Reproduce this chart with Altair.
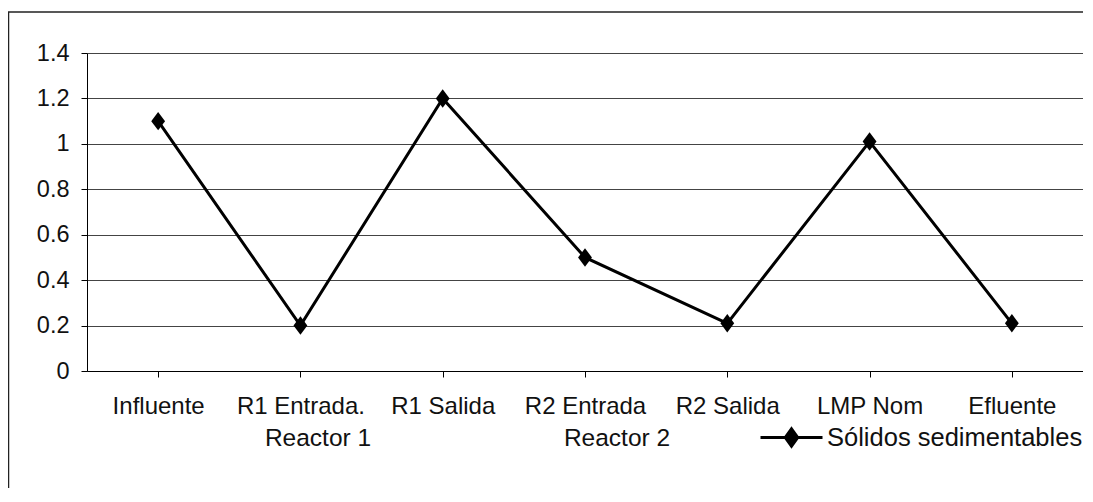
import altair as alt
import pandas as pd

categories = ["Influente", "R1 Entrada.", "R1 Salida", "R2 Entrada", "R2 Salida", "LMP Nom", "Efluente"]
values = [1.1, 0.2, 1.2, 0.5, 0.21, 1.01, 0.21]
series_name = "Sólidos sedimentables"
group_labels = ["Reactor 1", "Reactor 2"]
y_ticks = [0, 0.2, 0.4, 0.6, 0.8, 1.0, 1.2, 1.4]

df = pd.DataFrame({"cat": categories, "val": values, "serie": [series_name] * len(categories)})

FONT = "Liberation Sans"
W, H = 996, 318

x = alt.X("cat:N", sort=categories, title=None,
          scale=alt.Scale(paddingInner=0, paddingOuter=0),
          axis=alt.Axis(labelAngle=0, bandPosition=0, tickSize=6, tickColor="black",
                        domainColor="black", labelFontSize=24, labelFont=FONT,
                        labelColor="#111", labelPadding=17, grid=False, labelBaseline="top",
                        labelLimit=300))
y = alt.Y("val:Q", title=None,
          scale=alt.Scale(domain=[0, 1.4], nice=False),
          axis=alt.Axis(values=y_ticks, format="~g", tickSize=6, tickColor="black",
                        domainColor="black", gridColor="#444", gridWidth=1,
                        labelFontSize=23.5, labelFont=FONT, labelColor="#111",
                        labelPadding=12))

color = alt.Color("serie:N", scale=alt.Scale(range=["black"]), title=None,
                  legend=alt.Legend(orient="none", legendX=672, legendY=352,
                                    symbolType="M-1,0L1,0M0,-0.28L0.2,0L0,0.28L-0.2,0Z",
                                    symbolSize=3844, symbolFillColor="black",
                                    symbolStrokeColor="black", symbolStrokeWidth=3,
                                    labelFontSize=25.5, labelFont=FONT, labelColor="#111",
                                    labelOffset=3, labelLimit=0))

line = alt.Chart(df).mark_line(strokeWidth=3).encode(x=x, y=y, color=color)
points = alt.Chart(df).mark_point(
    shape="M0,-1L0.75,0L0,1L-0.75,0Z", filled=True, size=340, opacity=1
).encode(x=x, y=y, color=alt.Color("serie:N", scale=alt.Scale(range=["black"]), legend=None))

groups = pd.DataFrame({"g": group_labels, "px": [231, 530]})
group_text = alt.Chart(groups).mark_text(
    fontSize=24.5, font=FONT, color="#111", baseline="middle", align="center"
).encode(x=alt.X("px:Q", scale=None), y=alt.value(386), text="g:N")

frame = alt.Chart(pd.DataFrame({"a": [0]})).mark_rect(
    fill=None, stroke="#222", strokeWidth=1.5
).encode(x=alt.value(-78.5), x2=alt.value(W + 40), y=alt.value(-41), y2=alt.value(H + 200))

chart = alt.layer(frame, line, points, group_text).properties(
    width=W, height=H,
    autosize=alt.AutoSizeParams(type="none"),
    padding={"left": 79, "top": 45, "right": 0, "bottom": 117},
).configure_view(stroke="black", strokeWidth=1).configure(background="white")

chart.save("out.html", embed_options={"renderer": "svg", "actions": False})
